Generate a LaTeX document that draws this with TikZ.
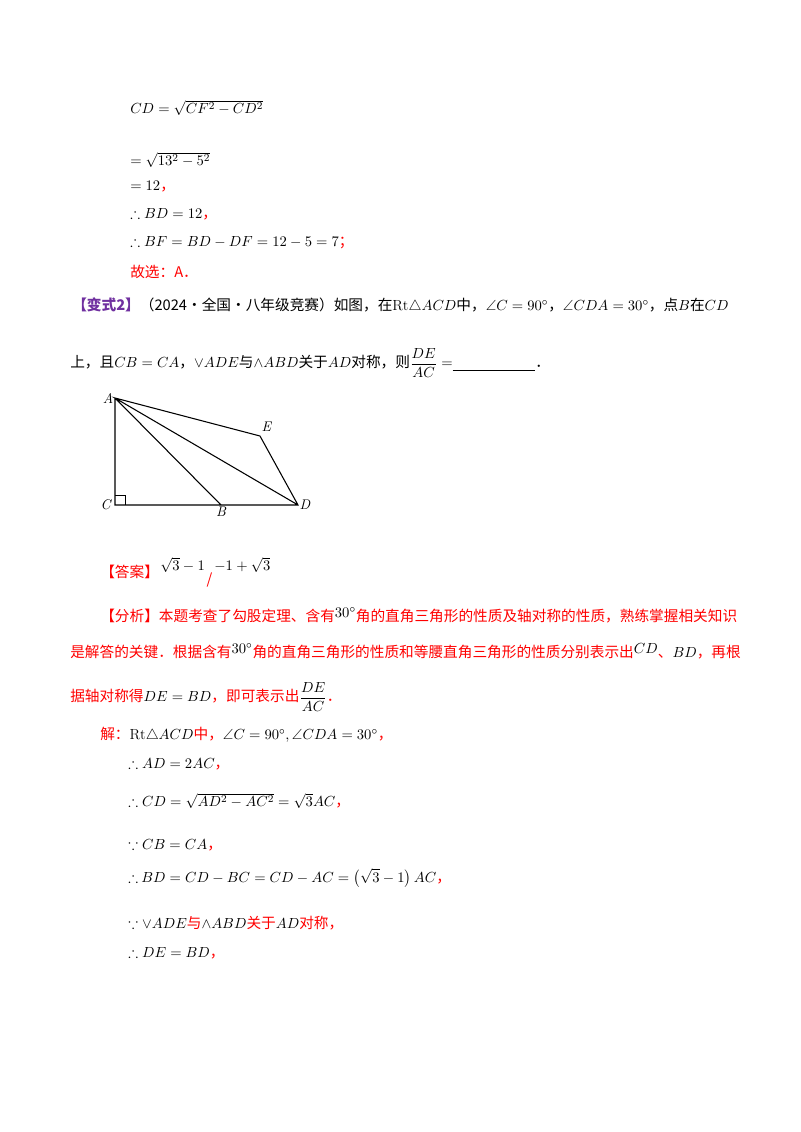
\documentclass[tikz,border=0pt]{standalone}
\usepackage{amsmath}
\usepackage{fontspec}
\usepackage{amssymb}
\newfontfamily\cjk{Noto Sans CJK SC}
\definecolor{myred}{HTML}{FF0000}
\definecolor{mypurple}{HTML}{7030A0}
\begin{document}
\begin{tikzpicture}[x=0.75pt,y=-0.75pt,
  t/.style={anchor=west,inner sep=0pt,font=\cjk\fontsize{11pt}{13pt}\selectfont},
  r/.style={t,text=myred},
  pt/.style={inner sep=1pt,font=\fontsize{10.5pt}{12pt}\selectfont\itshape}]
\useasboundingbox[fill=white] (0,0) rectangle (800,1132);
% top computation
\node[t] (l1) at (130,108) {$CD=\sqrt{CF^2-CD^2}$};
\node[t] (l2) at (130,160) {$=\sqrt{13^2-5^2}$};
\node[t] (l3) at (130,187) {$=12$\textcolor{myred}{，}};
\node[t] (l4) at (130,214) {$\therefore BD=12$\textcolor{myred}{，}};
\node[t] (l5) at (130,243) {$\therefore BF=BD-DF=12-5=7$\textcolor{myred}{；}};
\node[r] (l6) at (130,272) {故选：A．};
% problem
\node[t] (p1) at (72,306) {\textcolor{mypurple}{\bfseries【变式2】}（2024·全国·八年级竞赛）如图，在$\mathrm{Rt}\triangle ACD$中，$\angle C=90^\circ$，$\angle CDA=30^\circ$，点$B$在$CD$};
\node[t] (p2) at (70,363) {上，且$CB=CA$，$\vee ADE$与$\wedge ABD$关于$AD$对称，则$\dfrac{DE}{AC}=$\underline{\hspace{62pt}}．};
% figure
\coordinate (A) at (115,398);
\coordinate (C) at (115,505);
\coordinate (B) at (221,505);
\coordinate (D) at (298,505);
\coordinate (E) at (260,436);
\draw[line width=0.8pt] (A)--(C)--(D)--(E)--(A)--(D) (A)--(B);
\draw[line width=0.6pt] (115,495)--(125,495)--(125,505);
\node[pt,anchor=east] (lA) at (A) {A};
\node[pt,anchor=east] (lC) at ([xshift=-2pt]C) {C};
\node[pt,anchor=north] (lB) at (B) {B};
\node[pt,anchor=west] (lD) at (D) {D};
\node[pt,anchor=south west] (lE) at ([yshift=2pt]E) {E};
% answer
\node[r] (ans) at (100,572) {【答案】};
\node[t] (ans2) at (160,565) {$\sqrt3-1$};
\node[t,text=myred,anchor=north west] (sl) at ([xshift=1pt]ans2.south east) {/};
\node[t,anchor=south west] (ans3) at ([xshift=1pt]sl.north east) {$-1+\sqrt3$};
% analysis
\node[r] (a1) at (100,615) {【分析】本题考查了勾股定理、含有\raisebox{3pt}{\textcolor{black}{$30^\circ$}}角的直角三角形的性质及轴对称的性质，熟练掌握相关知识};
\node[r] (a2) at (70,651) {是解答的关键．根据含有\raisebox{3pt}{\textcolor{black}{$30^\circ$}}角的直角三角形的性质和等腰直角三角形的性质分别表示出\raisebox{3pt}{\textcolor{black}{$CD$}}、\textcolor{black}{$BD$}，再根};
\node[r] (a3) at (70,697) {据轴对称得\textcolor{black}{$DE=BD$}，即可表示出\textcolor{black}{$\dfrac{DE}{AC}$}．};
% solution
\node[t] (s1) at (100,735) {\textcolor{myred}{解：}$\mathrm{Rt}\triangle ACD$\textcolor{myred}{中，}$\angle C=90^\circ,\angle CDA=30^\circ$\textcolor{myred}{，}};
\node[t] (s2) at (128,764) {$\therefore AD=2AC$\textcolor{myred}{，}};
\node[t] (s3) at (128,801) {$\therefore CD=\sqrt{AD^2-AC^2}=\sqrt3AC$\textcolor{myred}{，}};
\node[t] (s4) at (128,845) {$\because CB=CA$\textcolor{myred}{，}};
\node[t] (s5) at (128,878) {$\therefore$\ $BD=CD-BC=CD-AC=\left(\sqrt3-1\right)AC$\textcolor{myred}{，}};
\node[t] (s6) at (128,923) {$\because\vee ADE$\textcolor{myred}{与}$\wedge ABD$\textcolor{myred}{关于}$AD$\textcolor{myred}{对称，}};
\node[t] (s7) at (128,953) {$\therefore DE=BD$\textcolor{myred}{，}};
\end{tikzpicture}
\end{document}
